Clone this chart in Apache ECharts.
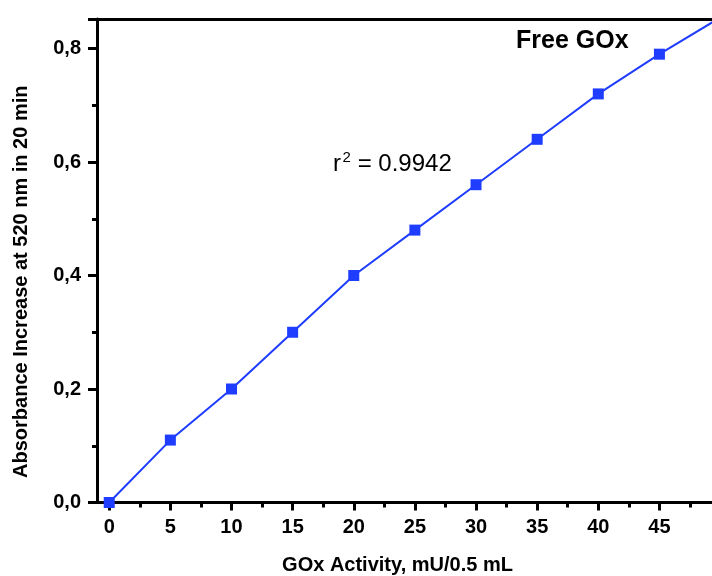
<!DOCTYPE html>
<html>
<head>
<meta charset="utf-8">
<script src="https://cdn.jsdelivr.net/npm/echarts@6/dist/echarts.min.js"></script>
<style>
  html, body { margin: 0; padding: 0; background: #fff; }
  #chart { width: 712px; height: 576px; }
</style>
</head>
<body>
<div id="chart"></div>
<script>
// GOx activity (mU/0.5 mL) vs absorbance increase
const activity = [0, 5, 10, 15, 20, 25, 30, 35, 40, 45, 50];
const absorbance = [0, 0.11, 0.20, 0.30, 0.40, 0.48, 0.56, 0.64, 0.72, 0.79, 0.855];
const xMajorTicks = [0, 5, 10, 15, 20, 25, 30, 35, 40, 45];
const xMinorTicks = [2.5, 7.5, 12.5, 17.5, 22.5, 27.5, 32.5, 37.5, 42.5, 47.5];

const font = 'Arial, "Liberation Sans", sans-serif';
const blue = '#1f3dff';
const xMin = -1, xMax = 49.3;

const chart = echarts.init(document.getElementById('chart'));

const option = {
  animation: false,
  backgroundColor: '#fff',
  grid: {
    left: 97,
    right: 0,
    top: 19,
    bottom: 73.5,
    outerBoundsMode: 'none',
    containLabel: false
  },
  xAxis: [
    {
      type: 'value',
      min: xMin,
      max: xMax,
      name: 'GOx Activity, mU/0.5 mL',
      nameLocation: 'middle',
      nameGap: 53,
      nameTextStyle: { color: '#000', fontFamily: font, fontWeight: 'bold', fontSize: 20, padding: [0, 14, 0, 0] },
      axisLine: { show: true, onZero: false, lineStyle: { color: '#000', width: 3 } },
      axisTick: { show: true, length: 8, customValues: xMajorTicks, lineStyle: { color: '#000', width: 3 } },
      axisLabel: { show: true, customValues: xMajorTicks, color: '#000', fontFamily: font, fontWeight: 'bold', fontSize: 20, margin: 15 },
      splitLine: { show: false }
    },
    {
      // minor ticks
      type: 'value',
      min: xMin,
      max: xMax,
      position: 'bottom',
      axisLine: { show: false },
      axisTick: { show: true, length: 5, customValues: xMinorTicks, lineStyle: { color: '#000', width: 3 } },
      axisLabel: { show: false },
      splitLine: { show: false }
    },
    {
      // top frame line
      type: 'value',
      min: xMin,
      max: xMax,
      position: 'top',
      axisLine: { show: true, onZero: false, lineStyle: { color: '#000', width: 3 } },
      axisTick: { show: false },
      axisLabel: { show: false },
      splitLine: { show: false }
    }
  ],
  yAxis: {
    type: 'value',
    min: 0,
    max: 0.852,
    interval: 0.2,
    name: 'Absorbance Increase at 520 nm in 20 min',
    nameLocation: 'middle',
    nameGap: 66,
    nameTextStyle: { color: '#000', fontFamily: font, fontWeight: 'bold', fontSize: 20, padding: [0, 42, 0, 0] },
    axisLine: { show: true, onZero: false, lineStyle: { color: '#000', width: 3 } },
    axisTick: { show: true, length: 9, lineStyle: { color: '#000', width: 3 } },
    minorTick: { show: true, splitNumber: 2, length: 5, lineStyle: { color: '#000', width: 3 } },
    axisLabel: {
      color: '#000', fontFamily: font, fontWeight: 'bold', fontSize: 20, margin: 16,
      showMaxLabel: false,
      formatter: v => v.toFixed(1).replace('.', ',')
    },
    splitLine: { show: false }
  },
  series: [
    {
      type: 'line',
      data: activity.map((x, i) => [x, absorbance[i]]),
      symbol: 'rect',
      symbolSize: 11,
      clip: true,
      lineStyle: { color: blue, width: 2 },
      itemStyle: { color: blue }
    }
  ],
  graphic: [
    {
      type: 'text',
      left: 516,
      top: 29,
      style: { text: 'Free GOx', fill: '#000', font: 'bold 25px ' + font }
    },
    {
      type: 'text',
      left: 333,
      top: 152,
      style: { text: 'r', fill: '#000', font: '24px ' + font }
    },
    {
      type: 'text',
      left: 342.5,
      top: 150,
      style: { text: '2', fill: '#000', font: '15px ' + font }
    },
    {
      type: 'text',
      left: 351,
      top: 152,
      style: { text: ' = 0.9942', fill: '#000', font: '24px ' + font }
    }
  ]
};

chart.setOption(option);
window.addEventListener('resize', () => chart.resize());
</script>
</body>
</html>
